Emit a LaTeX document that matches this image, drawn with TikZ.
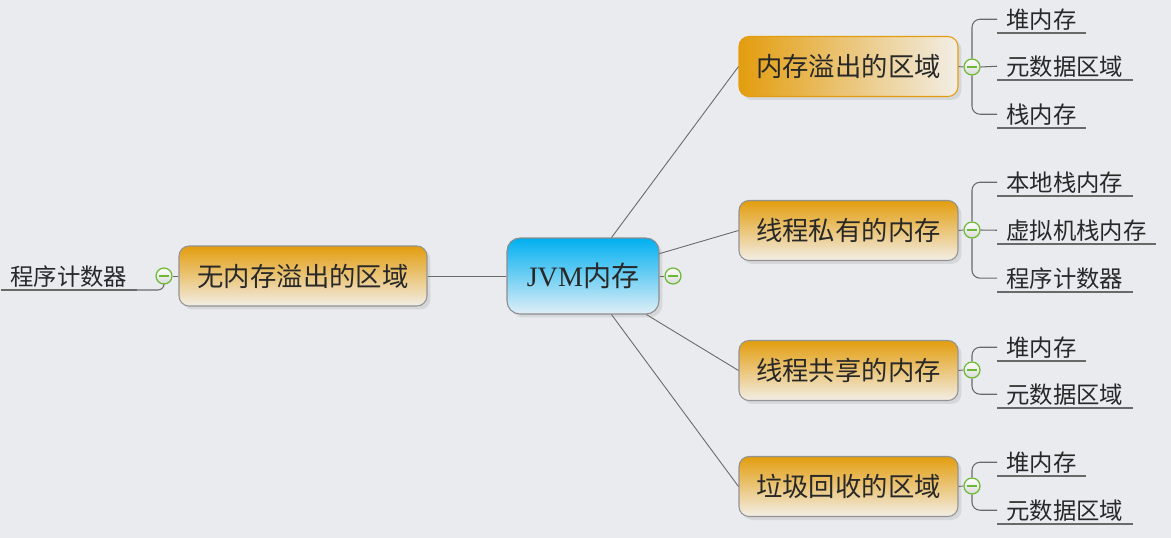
\documentclass[tikz,border=0pt]{standalone}
\usepackage{fontspec}
\setmainfont{Liberation Serif}
\newfontfamily\cjk{Noto Sans CJK SC}
\usetikzlibrary{shadows}

\definecolor{bgcol}{RGB}{233,235,239}
\definecolor{xorange}{RGB}{227,157,14}
\definecolor{xpale}{RGB}{242,238,230}
\definecolor{xcyan}{RGB}{0,175,240}
\definecolor{xice}{RGB}{224,239,247}
\definecolor{xgreen}{RGB}{108,186,52}
\definecolor{xline}{RGB}{105,105,105}
\definecolor{xtext}{RGB}{40,40,40}

\tikzset{
  topic/.style={rounded corners=0.2cm, draw=gray!85, line width=0.6pt,
    minimum width=4.38cm, minimum height=1.2cm, text=xtext,
    font=\cjk\fontsize{15}{18}\selectfont,
    drop shadow={shadow xshift=0.07cm, shadow yshift=-0.07cm, opacity=0.18},
    top color=xorange, bottom color=xpale},
  root/.style={rounded corners=0.26cm, draw=gray!90, line width=0.6pt,
    minimum width=3.04cm, minimum height=1.52cm, text=xtext,
    font=\fontsize{16}{19}\selectfont,
    drop shadow={shadow xshift=0.07cm, shadow yshift=-0.07cm, opacity=0.18},
    top color=xcyan, bottom color=xice},
  collapse/.style={circle, draw=xgreen, line width=0.7pt, minimum size=0.32cm,
    inner sep=0pt, top color=white, bottom color=gray!30,
    path picture={\draw[xgreen, line width=0.8pt]
      ([xshift=-0.1cm]path picture bounding box.center) --
      ([xshift=0.1cm]path picture bounding box.center);}},
  leaf/.style={font=\cjk\fontsize{13.3}{16}\selectfont, text=xtext,
    inner xsep=0.18cm, inner ysep=1.5pt, anchor=south west,
    append after command={(\tikzlastnode.south west)
      edge[draw=xline, line width=0.6pt] (\tikzlastnode.south east)}},
  link/.style={draw=xline, line width=0.5pt},
  twig/.style={draw=xline, line width=0.6pt, rounded corners=0.16cm}
}

\begin{document}
\begin{tikzpicture}[x=0.02cm,y=-0.02cm]
\fill[bgcol] (0,0) rectangle (1171,538);
\path[use as bounding box] (0,0) rectangle (1171,538);

% central topic and main branches
\node[root] (jvm) at (583,276) {JVM{\cjk 内存}};
\node[topic, left color=xorange, right color=xpale, draw=xorange] (ovf) at (848.5,66.5) {内存溢出的区域};
\node[topic] (priv) at (848.5,230.5) {线程私有的内存};
\node[topic] (shr) at (848.5,370.5) {线程共享的内存};
\node[topic] (gc) at (848.5,486.5) {垃圾回收的区域};
\node[topic, minimum width=4.96cm] (nof) at (303,276) {无内存溢出的区域};

\draw[link] (jvm) -- (ovf.west);
\draw[link] (jvm) -- (priv.west);
\draw[link] (jvm) -- (shr.west);
\draw[link] (jvm) -- (gc.west);
\draw[link] (jvm) -- (nof.east);

% collapse buttons
\node[collapse] (cjvm) at (673,276) {};
\node[collapse] (covf) at (972,67) {};
\node[collapse] (cpriv) at (972,230) {};
\node[collapse] (cshr) at (972,370) {};
\node[collapse] (cgc) at (972,486) {};
\node[collapse] (cnof) at (164,276) {};

\draw[link] (jvm.east) -- (cjvm.west);
\draw[link] (ovf.east) -- (covf.west);
\draw[link] (priv.east) -- (cpriv.west);
\draw[link] (shr.east) -- (cshr.west);
\draw[link] (gc.east) -- (cgc.west);
\draw[link] (nof.west) -- (cnof.east);

% leaves
\node[leaf] (ovf1) at (997,33) {堆内存};
\node[leaf] (ovf2) at (997,80) {元数据区域};
\node[leaf] (ovf3) at (997,128) {栈内存};
\node[leaf] (priv1) at (997,196) {本地栈内存};
\node[leaf] (priv2) at (997,244) {虚拟机栈内存};
\node[leaf] (priv3) at (997,292) {程序计数器};
\node[leaf] (shr1) at (997,361) {堆内存};
\node[leaf] (shr2) at (997,408) {元数据区域};
\node[leaf] (gc1) at (997,476) {堆内存};
\node[leaf] (gc2) at (997,524) {元数据区域};
\node[leaf] (nof1) at (1,290) {程序计数器};

\draw[twig] (covf.north) |- (ovf1.west);
\draw[twig] (covf.east) -- (ovf2.west);
\draw[twig] (covf.south) |- (ovf3.west);
\draw[twig] (cpriv.north) |- (priv1.west);
\draw[twig] (cpriv.east) -- (priv2.west);
\draw[twig] (cpriv.south) |- (priv3.west);
\draw[twig] (cshr.north) |- (shr1.west);
\draw[twig] (cshr.south) |- (shr2.west);
\draw[twig] (cgc.north) |- (gc1.west);
\draw[twig] (cgc.south) |- (gc2.west);
\draw[twig, rounded corners=0.12cm] (cnof.south) |- (nof1.south east);
\end{tikzpicture}
\end{document}
